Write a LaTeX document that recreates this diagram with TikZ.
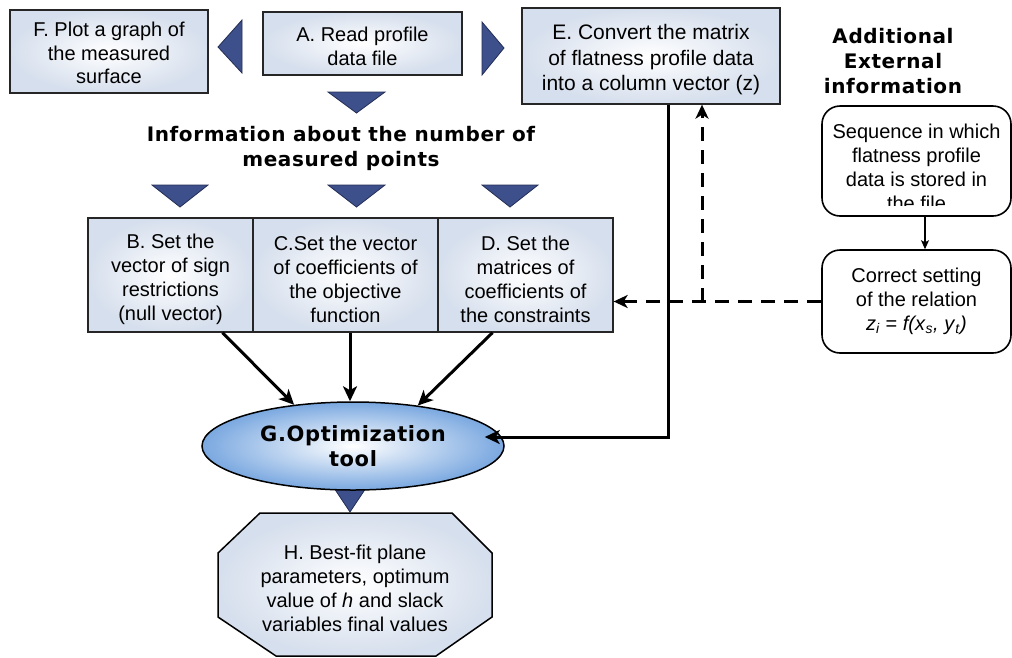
\documentclass[tikz,border=0pt]{standalone}
\usepackage{fontspec}
\setmainfont{Liberation Sans}
\newfontfamily\vfont{DejaVu Sans}[LetterSpace=3]
\usetikzlibrary{arrows.meta,calc,shapes.geometric}
\definecolor{boxblue}{RGB}{214,223,237}
\definecolor{triblue}{RGB}{62,80,140}
\definecolor{tridark}{RGB}{35,45,85}
\definecolor{ellblue}{RGB}{122,168,224}
\begin{document}
\begin{tikzpicture}[x=1pt,y=-1pt,
  box/.style={draw=black!85, line width=1.3pt, inner color=white, outer color=boxblue,
    inner sep=0pt},
  txt/.style={align=center, inner sep=0pt, font=\fontsize{20}{24}\selectfont},
  rbox/.style={draw=black, line width=1.6pt, rounded corners=18pt, fill=white,
    align=center, inner sep=0pt, font=\fontsize{20}{24}\selectfont},
  tri/.style={fill=triblue, draw=tridark, line width=0.8pt},
  arr/.style={line width=3pt, -{Stealth[length=15pt,width=14pt,inset=4pt]}},
  dsh/.style={line width=3pt, dash pattern=on 14pt off 9pt, -{Stealth[length=14pt,width=13pt,inset=4pt]}},
  ttl/.style={align=center, font=\vfont\bfseries\fontsize{20}{25}\selectfont}
]
\useasboundingbox (0,0) rectangle (1012,657);

% boxes
\node[box, minimum width=198pt, minimum height=83pt] (F) at (109,51.5) {};
\node[txt, font=\fontsize{20}{23.5}\selectfont] (Ft) at ([yshift=-1.5pt]F.center) {F. Plot a graph of\\the measured\\surface};
\node[box, minimum width=199pt, minimum height=63pt] (A) at (362.5,43.5) {};
\node[txt] (At) at ([yshift=-2.5pt]A.center) {A. Read profile\\data file};
\node[box, minimum width=258pt, minimum height=96pt] (E) at (651,56) {};
\node[txt, font=\fontsize{21}{25.5}\selectfont] (Et) at ([yshift=-4pt]E.center) {E. Convert the matrix\\of flatness profile data\\into a column vector (z)};
\node[box, minimum width=165pt, minimum height=114pt] (B) at (170.5,275) {};
\node[txt] (Bt) at ([yshift=-4pt]B.center) {B. Set the\\vector of sign\\restrictions\\(null vector)};
\node[box, minimum width=185pt, minimum height=114pt] (C) at (345.5,275) {};
\node[txt] (Ct) at ([yshift=-4pt]C.center) {C.Set the vector\\of coefficients of\\the objective\\function};
\node[box, minimum width=175pt, minimum height=114pt] (D) at (525.5,275) {};
\node[txt] (Dt) at ([yshift=-4pt]D.center) {D. Set the\\matrices of\\coefficients of\\the constraints};

% triangles
\draw[tri] (218,47) -- (242,20) -- (242,73) -- cycle;
\draw[tri] (504,48) -- (482,22) -- (482,75) -- cycle;
\draw[tri] (328,92) -- (385,92) -- (356.5,113) -- cycle;
\draw[tri] (152,185) -- (208,185) -- (180,207) -- cycle;
\draw[tri] (328,185) -- (385,185) -- (356.5,207) -- cycle;
\draw[tri] (482,185) -- (538,185) -- (510,207) -- cycle;
\draw[tri] (322,470) -- (378,470) -- (350,512) -- cycle;

% titles
\node[ttl] (info) at (341,148) {Information about the number of\\measured points};
\node[ttl] (addl) at (893,61) {Additional\\External\\information};

% external boxes
\node[rbox, minimum width=189pt, minimum height=110pt] (Seq) at (916.5,161) {};
\begin{scope}
\clip ([xshift=2pt,yshift=-2pt]Seq.north west) rectangle ([xshift=-2pt,yshift=11pt]Seq.south east);
\node[txt, anchor=north] (SeqT) at (916.5,124) {Sequence in which\\flatness profile\\data is stored in\\the file};
\end{scope}
\node[rbox, minimum width=189pt, minimum height=103pt] (Cor) at (916.5,301.5) {Correct setting\\of the relation\\\textit{z}\textsubscript{\textit{i}} = \textit{f(x}\textsubscript{\textit{s}}\textit{, y}\textsubscript{\textit{t}}\textit{)}};

% ellipse
\node[ellipse, draw=black, line width=1.5pt, minimum width=302pt, minimum height=88pt, inner sep=0pt,
  inner color=white, outer color=ellblue, align=center,
  font=\vfont\bfseries\fontsize{21}{25}\selectfont] (G) at (353,446) {G.Optimization\\tool};

% octagon H
\path[draw=black, line width=1.5pt, inner color=white, outer color=boxblue]
  (260,513) -- (452,513) -- (492,553) -- (492,617) -- (436,656) -- (276,656) -- (218,617) -- (218,553) -- cycle;
\node[txt] (H) at (355,588) {H. Best-fit plane\\parameters, optimum\\value of \textit{h} and slack\\variables final values};

% connectors
\draw[arr] ([xshift=52pt]B.south) -- (G.145);
\draw[arr] ([xshift=4.5pt]C.south) -- ([xshift=4.5pt]C.south |- G.north);
\draw[arr] ([xshift=-33pt]D.south) -- (G.32);
\draw[arr] ([xshift=17pt]E.south) |- ([xshift=-20pt,yshift=9pt]G.east);
\draw[line width=1.3pt, -{Stealth[length=9pt,width=8pt,inset=2pt]}] ([xshift=8.5pt]Seq.south) -- ([xshift=8.5pt]Cor.north);
\coordinate (J) at ([xshift=51pt]E.south |- Cor.west);
\draw[dsh] (Cor.west) -- (Cor.west -| D.east);
\draw[dsh] (J) -- ([xshift=51pt]E.south);
\end{tikzpicture}
\end{document}
